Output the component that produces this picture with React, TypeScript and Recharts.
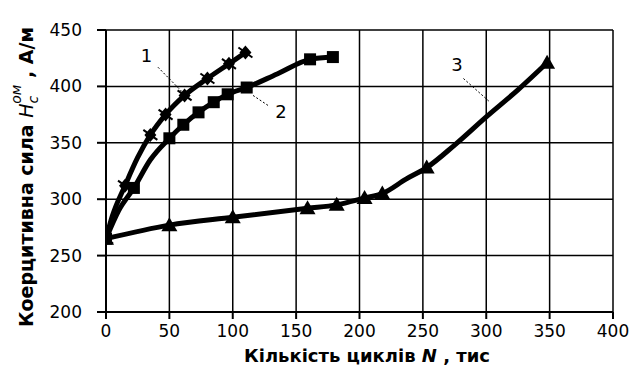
import React from "react";
import {
  LineChart,
  Line,
  XAxis,
  YAxis,
  CartesianGrid,
  ReferenceLine,
  ReferenceDot,
} from "recharts";

// curve 1
const n1 = [0, 5, 15, 25, 35, 47, 62, 80, 97, 110];
const h1 = [265, 285, 312, 337, 357, 375, 392, 407, 420, 430];
const m1 = [1, 0, 1, 0, 1, 1, 1, 1, 1, 1];

// curve 2
const n2 = [0, 10, 22, 35, 50, 61, 73, 85, 96, 111, 135, 161, 179];
const h2 = [265, 290, 310, 335, 354, 366, 377, 386, 393, 399, 411, 424, 426];
const m2 = [1, 0, 1, 0, 1, 1, 1, 1, 1, 1, 0, 1, 1];

// curve 3
const n3 = [0, 50, 100, 159, 182, 204, 218, 237, 253, 275, 300, 325, 348];
const h3 = [265, 277, 284, 292, 295, 301, 305, 318, 328, 348, 373, 397, 421];
const m3 = [1, 1, 1, 1, 1, 1, 1, 0, 1, 0, 0, 0, 1];

const xTicks = [0, 50, 100, 150, 200, 250, 300, 350, 400];
const yTicks = [200, 250, 300, 350, 400, 450];

const build = (n: number[], h: number[], m: number[]) =>
  n.map((v, i) => ({ n: v, h: h[i], m: m[i] }));

const font = "'DejaVu Sans', 'Liberation Sans', Arial, sans-serif";

const Diamond = (p: any) => {
  if (!p.payload || !p.payload.m) return null;
  const { cx, cy } = p;
  return (
    <g>
      <polygon points={`${cx},${cy - 7} ${cx + 6},${cy} ${cx},${cy + 7} ${cx - 6},${cy}`} fill="#000" />
      <line x1={cx - 7} y1={cy - 5} x2={cx + 7} y2={cy + 5} stroke="#000" strokeWidth={2} />
    </g>
  );
};

const Square = (p: any) => {
  if (!p.payload || !p.payload.m) return null;
  const { cx, cy } = p;
  return <rect x={cx - 6} y={cy - 6} width={12} height={12} fill="#000" />;
};

const Tri = (p: any) => {
  if (!p.payload || !p.payload.m) return null;
  const { cx, cy } = p;
  return <polygon points={`${cx},${cy - 8} ${cx + 8},${cy + 6} ${cx - 8},${cy + 6}`} fill="#000" />;
};

const YTitle = () => (
  <text
    transform="translate(33,177) rotate(-90)"
    textAnchor="middle"
    fontFamily={font}
    fontWeight="bold"
    fontSize={19}
    fill="#000"
  >
    Коерцитивна сила{" "}
    <tspan fontStyle="italic" fontWeight="normal">H</tspan>
    <tspan fontStyle="italic" fontWeight="normal" fontSize={14} dy={5}>c</tspan>
    <tspan fontStyle="italic" fontWeight="normal" fontSize={14} dy={-17} dx={-8}>ом</tspan>
    <tspan dy={12}>{" "}, А/м</tspan>
  </text>
);

const XTitle = () => (
  <text x={367} y={362} textAnchor="middle" fontFamily={font} fontWeight="bold" fontSize={18} fill="#000">
    Кількість циклів <tspan fontStyle="italic">N</tspan> , тис
  </text>
);

export default function App() {
  const tick = { fill: "#000", fontSize: 17, fontFamily: font };
  return (
    <div style={{ position: "absolute", left: 0, top: 0, background: "#fff" }}>
      <LineChart width={634} height={372} margin={{ top: 30, right: 21, bottom: 0, left: 0 }}>
        <CartesianGrid stroke="#000" strokeWidth={1.5} />
        <XAxis
          type="number"
          dataKey="n"
          domain={[0, 400]}
          ticks={xTicks}
          height={60}
          tick={tick}
          tickSize={7}
          tickMargin={6}
          stroke="#000"
          strokeWidth={2}
          allowDataOverflow
          label={<XTitle />}
        />
        <YAxis
          type="number"
          dataKey="h"
          domain={[200, 450]}
          ticks={yTicks}
          width={106}
          tick={tick}
          tickSize={9}
          tickMargin={15}
          stroke="#000"
          strokeWidth={2}
          allowDataOverflow
          label={<YTitle />}
        />
        <Line
          data={build(n3, h3, m3)}
          dataKey="h"
          type="monotone"
          stroke="#000"
          strokeWidth={5}
          dot={<Tri />}
          activeDot={false}
          isAnimationActive={false}
        />
        <Line
          data={build(n2, h2, m2)}
          dataKey="h"
          type="monotone"
          stroke="#000"
          strokeWidth={5}
          dot={<Square />}
          activeDot={false}
          isAnimationActive={false}
        />
        <Line
          data={build(n1, h1, m1)}
          dataKey="h"
          type="monotone"
          stroke="#000"
          strokeWidth={5}
          dot={<Diamond />}
          activeDot={false}
          isAnimationActive={false}
        />
        <ReferenceLine segment={[{ x: 41, y: 417 }, { x: 62, y: 393 }]} stroke="#000" strokeDasharray="2 2" />
        <ReferenceLine segment={[{ x: 116, y: 392 }, { x: 128, y: 383 }]} stroke="#000" strokeDasharray="2 2" />
        <ReferenceLine segment={[{ x: 282, y: 407 }, { x: 302, y: 387 }]} stroke="#000" strokeDasharray="2 2" />
        <ReferenceDot x={32} y={427} r={0} label={{ value: "1", position: "center", fontSize: 18, fill: "#000", fontFamily: font }} />
        <ReferenceDot x={138} y={378} r={0} label={{ value: "2", position: "center", fontSize: 18, fill: "#000", fontFamily: font }} />
        <ReferenceDot x={277} y={419} r={0} label={{ value: "3", position: "center", fontSize: 18, fill: "#000", fontFamily: font }} />
      </LineChart>
    </div>
  );
}
